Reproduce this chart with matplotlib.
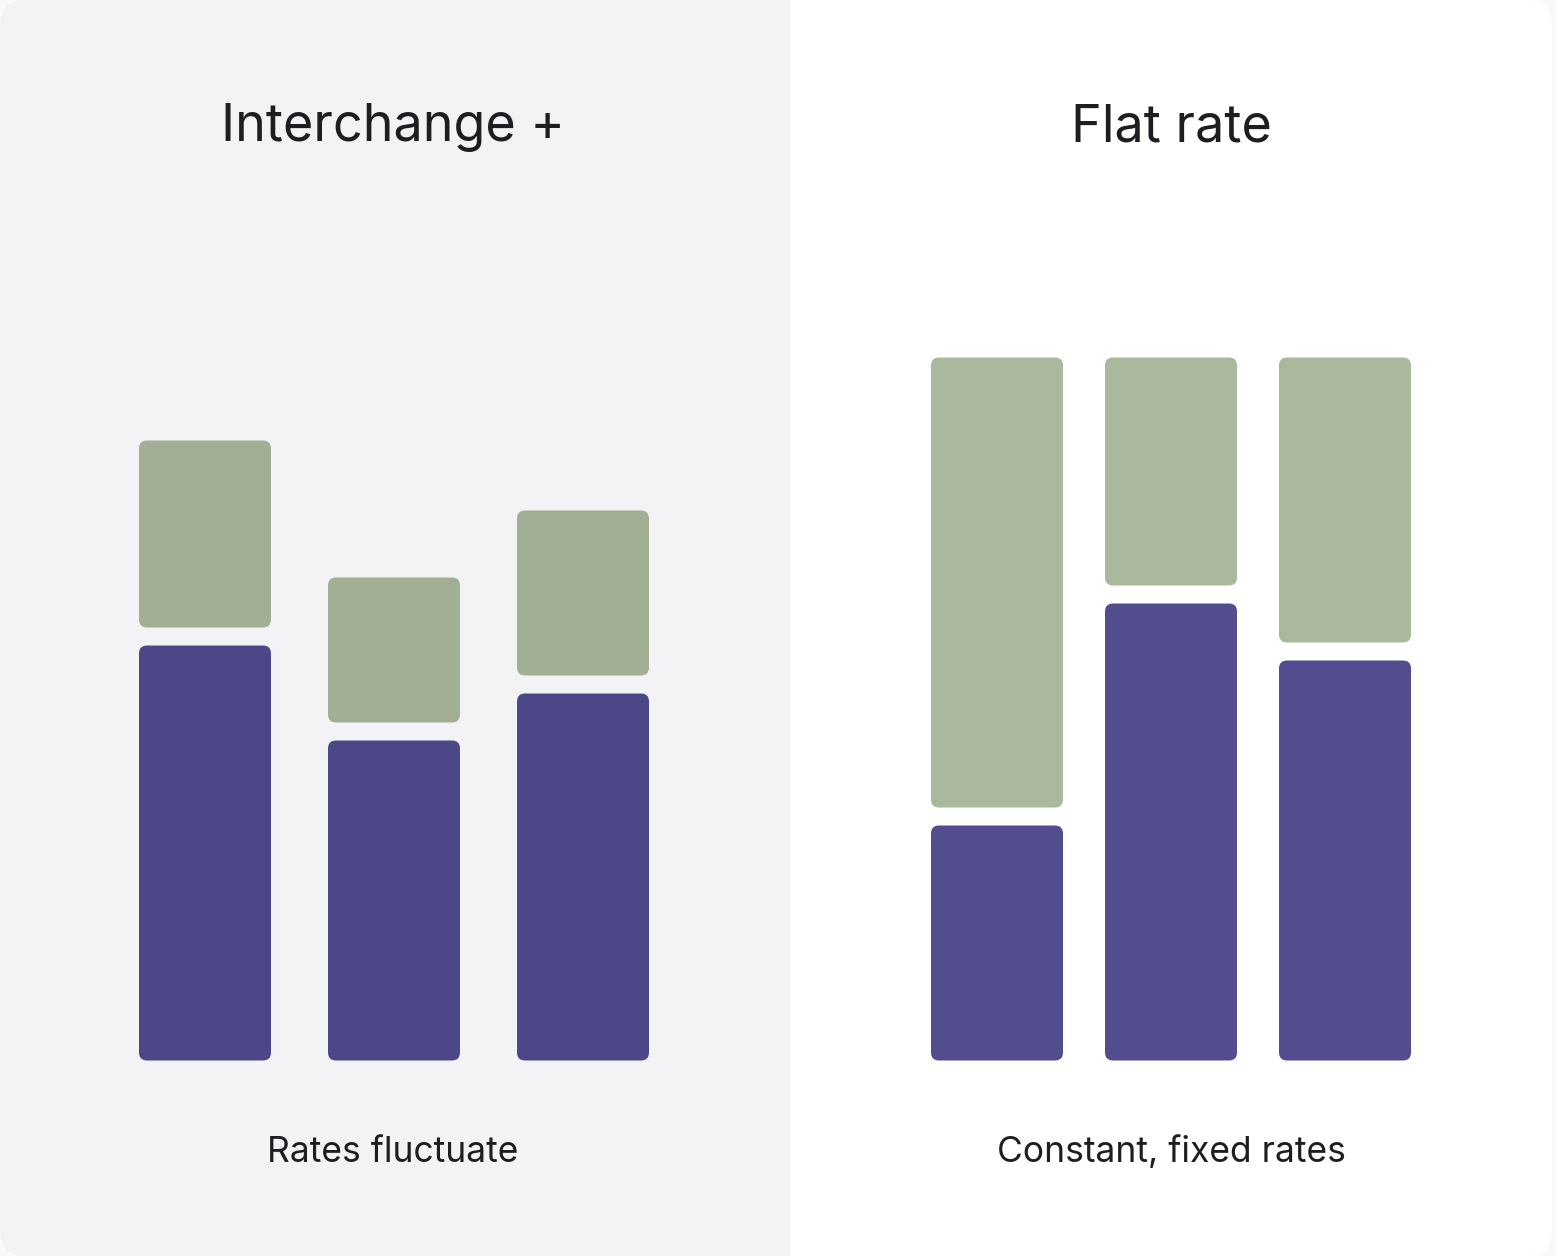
import matplotlib.pyplot as plt
from matplotlib.patches import FancyBboxPatch, Rectangle

plt.rcParams['font.family'] = ['Inter', 'DejaVu Sans']

# data (arbitrary units, bottom segment = purple, top segment = green)
panel_titles = ['Interchange +', 'Flat rate']
panel_notes = ['Rates fluctuate', 'Constant, fixed rates']
ic_base = [41.5, 32.0, 36.7]
ic_top = [18.7, 14.5, 16.5]
flat_base = [23.5, 45.7, 40.0]
flat_top = [45.0, 22.8, 28.5]

W, H = 1556, 1256
fig = plt.figure(figsize=(W / 100, H / 100), dpi=100)
fig.patch.set_facecolor('#f9f9fa')

# background card
bg = fig.add_axes([0, 0, 1, 1])
bg.set_xlim(0, W)
bg.set_ylim(H, 0)
bg.axis('off')
bg.add_patch(FancyBboxPatch((0, 0), 1552, 1256, boxstyle='round,pad=0,rounding_size=26',
                            fc='white', ec='none'))
bg.add_patch(FancyBboxPatch((0, 0), 840, 1256, boxstyle='round,pad=0,rounding_size=26',
                            fc='#f3f3f5', ec='none'))
bg.add_patch(Rectangle((790, 0), 60, 1256, fc='white', ec='none'))

gap = 1.8
ymax = 75.0
radius_px = 8


def draw_panel(left_px, spacing_px, base, top, c_base, c_top):
    width_px = 3 * spacing_px
    ax = fig.add_axes([left_px / W, (H - 1060.5) / H, width_px / W, ymax * 10 / H])
    ax.set_xlim(-0.5, 2.5)
    ax.set_ylim(0, ymax)
    ax.axis('off')
    bw = 132 / spacing_px
    asp = spacing_px / 10
    r = radius_px / spacing_px
    for i, (b, t) in enumerate(zip(base, top)):
        ax.add_patch(FancyBboxPatch((i - bw / 2, 0), bw, b,
                                    boxstyle=f'round,pad=0,rounding_size={r}',
                                    mutation_aspect=asp, fc=c_base, ec='none'))
        ax.add_patch(FancyBboxPatch((i - bw / 2, b + gap), bw, t,
                                    boxstyle=f'round,pad=0,rounding_size={r}',
                                    mutation_aspect=asp, fc=c_top, ec='none'))
    return ax


draw_panel(110.5, 189, ic_base, ic_top, '#4c4887', '#a2af95')
draw_panel(910, 174, flat_base, flat_top, '#514d8e', '#aab89d')

for cx, title, note in zip([393, 1171], panel_titles, panel_notes):
    bg.text(cx, 141, title, fontsize=37.5, color='#1d1d22', ha='center', va='baseline')
    bg.text(cx, 1162, note, fontsize=25.5, color='#1d1d22', ha='center', va='baseline')

fig.savefig('out.png', dpi=100, facecolor=fig.get_facecolor())
